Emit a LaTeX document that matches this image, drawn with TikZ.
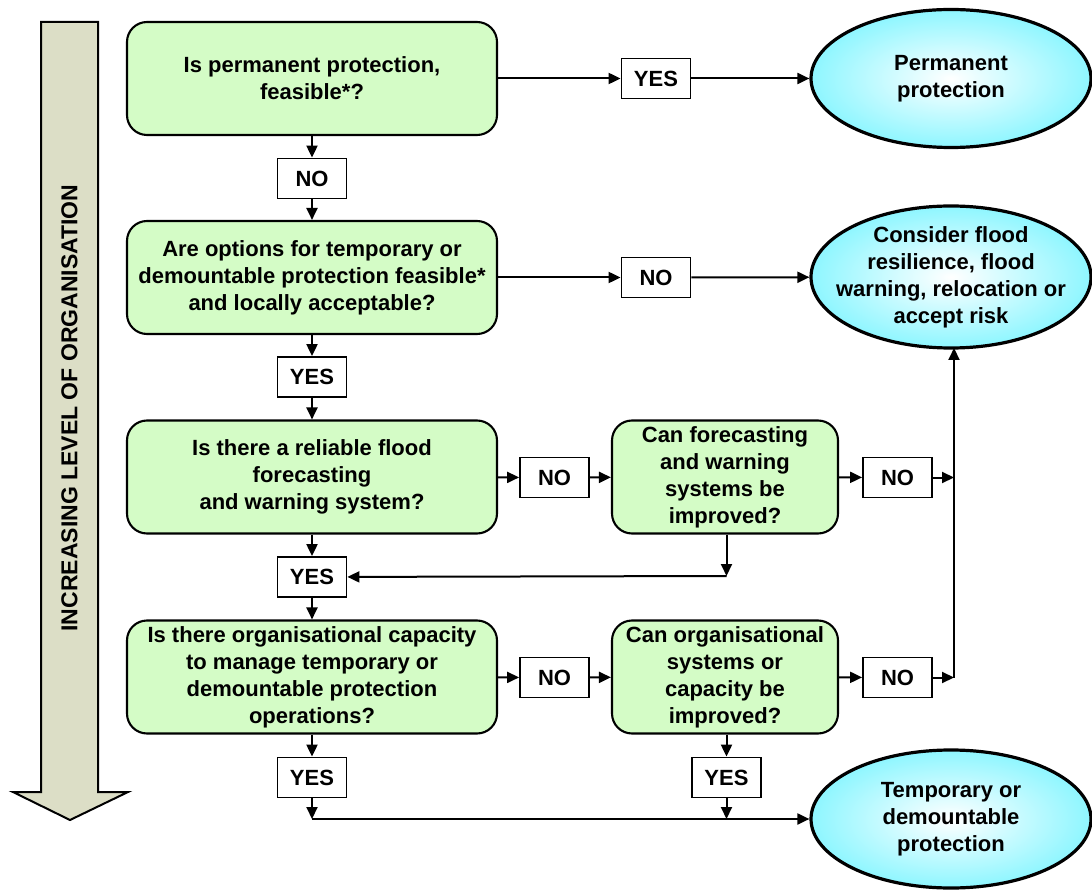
\documentclass[tikz,border=0pt]{standalone}
\usepackage{fontspec}
\setmainfont{Liberation Sans}
\usetikzlibrary{shapes.geometric,arrows.meta}
\definecolor{boxgreen}{HTML}{D4FCC6}
\definecolor{ellout}{HTML}{8EF6FF}
\definecolor{arrowfill}{HTML}{DCDEC6}
\begin{document}
\begin{tikzpicture}[x=1pt,y=-1pt,
  txt/.style={font=\fontsize{22}{27}\selectfont\bfseries, align=center},
  qbox/.style={txt, draw, line width=2.1pt, rounded corners=20pt, fill=boxgreen,
     minimum width=370pt, minimum height=113pt, inner sep=1pt},
  sbox/.style={txt, draw, line width=2.1pt, rounded corners=20pt, fill=boxgreen,
     minimum width=226pt, minimum height=113pt, inner sep=1pt},
  ans/.style={txt, draw, line width=1.8pt, fill=white, minimum width=69pt, minimum height=40pt, inner sep=0pt},
  term/.style={txt, ellipse, draw, line width=3.2pt, shading=radial, inner color=white, outer color=ellout,
     minimum width=280pt, inner xsep=-70pt, inner ysep=-35pt},
  con/.style={line width=2pt, -{Triangle[length=12pt,width=11pt]}}]
\useasboundingbox (0,0) rectangle (1092,890);

% left arrow
\draw[line width=2pt, fill=arrowfill, line join=miter]
  (41,22) -- (98,22) -- (98,792) -- (128,792) -- (70,820) -- (13,792) -- (41,792) -- cycle;
\node[txt, font=\fontsize{23}{27}\selectfont\bfseries, rotate=90] (lvl) at (69.5,408) {INCREASING LEVEL OF ORGANISATION};

% question boxes
\node[qbox] (b1) at (312,78.5) {Is permanent protection,\\feasible*?};
\node[qbox] (b2) at (312,277.5) {Are options for temporary or\\demountable protection feasible*\\and locally acceptable?};
\node[qbox] (b3) at (312,477) {Is there a reliable flood\\forecasting\\ and warning system?};
\node[qbox] (b4) at (312,677) {Is there organisational capacity\\to manage temporary or\\demountable protection\\operations?};
\node[sbox] (b5) at (725,477) {Can forecasting\\and warning\\systems be\\improved?};
\node[sbox] (b6) at (725,677) {Can organisational\\systems or\\capacity be\\improved?};

% terminals
\node[term, minimum height=138pt] (e1) at (951,78.5) {Permanent\\protection};
\node[term, minimum height=142pt] (e2) at (951,277) {Consider flood\\resilience, flood\\warning, relocation or\\accept risk};
\node[term, minimum height=138pt] (e3) at (951,819) {Temporary or\\demountable\\protection};

% answer boxes
\node[ans] (y1) at (656,78.5) {YES};
\node[ans] (n1) at (312,178.5) {NO};
\node[ans] (n2) at (656,277.5) {NO};
\node[ans] (y2) at (312,377) {YES};
\node[ans] (n3) at (554.5,477.5) {NO};
\node[ans] (n4) at (897.5,477.5) {NO};
\node[ans] (y3) at (312,577) {YES};
\node[ans] (n5) at (554.5,677.5) {NO};
\node[ans] (n6) at (897.5,677.5) {NO};
\node[ans] (y4) at (312,777.5) {YES};
\node[ans] (y5) at (726.5,777.5) {YES};

% helper coordinates
\coordinate (v4) at (954,477.5);
\coordinate (v6) at (954,677.5);
\coordinate (c5) at (726.5,576);
\coordinate (j4) at (312,819);
\coordinate (j5) at (726.5,819);
\coordinate (e2b) at (954,348);

% connectors
\draw[con] (b1) -- (y1);
\draw[con] (y1) -- (e1);
\draw[con] (b1) -- (n1);
\draw[con] (n1) -- (b2);
\draw[con] (b2) -- (n2);
\draw[con] (n2) -- (e2);
\draw[con] (b2) -- (y2);
\draw[con] (y2) -- (b3);
\draw[con] (b3) -- (n3);
\draw[con] (n3) -- (b5);
\draw[con] (b5) -- (n4);
\draw[con] (n4) -- (v4);
\draw[con] (b5.south -| c5) -- (c5);
\draw[con] (c5) -- (y3);
\draw[con] (b3) -- (y3);
\draw[con] (y3) -- (b4);
\draw[con] (b4) -- (n5);
\draw[con] (n5) -- (b6);
\draw[con] (b6) -- (n6);
\draw[con] (n6) -- (v6);
\draw[con] (v6) -- (e2b);
\draw[con] (b4) -- (y4);
\draw[con] (y4) -- (j4);
\draw[con] (b6.south -| y5) -- (y5);
\draw[con] (y5) -- (j5);
\draw[con] (j4) -- (e3);
\end{tikzpicture}
\end{document}
